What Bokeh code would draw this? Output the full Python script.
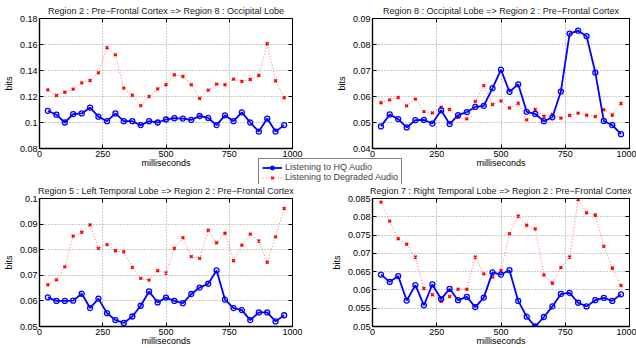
from bokeh.plotting import figure
from bokeh.layouts import column, row
from bokeh.models import (FixedTicker, NumeralTickFormatter, Range1d, Legend, LegendItem,
                          ColumnDataSource, LinearAxis, CustomJSTickFormatter)
from bokeh.embed import file_html
from bokeh.resources import INLINE

ms = [33, 67, 100, 133, 167, 200, 233, 267, 300, 333, 367, 400, 433, 467, 500,
      533, 567, 600, 633, 667, 700, 733, 767, 800, 833, 867, 900, 933, 967]

titles = [
    "Region 2 : Pre\u2212Frontal Cortex => Region 8 : Occipital Lobe",
    "Region 8 : Occipital Lobe => Region 2 : Pre\u2212Frontal Cortex",
    "Region 5 : Left Temporal Lobe => Region 2 : Pre\u2212Frontal Cortex",
    "Region 7 : Right Temporal Lobe => Region 2 : Pre\u2212Frontal Cortex",
]

hq_1 = [0.109, 0.106, 0.100, 0.1065, 0.107, 0.1115, 0.1045, 0.101, 0.107, 0.101,
        0.101, 0.098, 0.101, 0.100, 0.1023, 0.1033, 0.103, 0.102, 0.105, 0.1035,
        0.098, 0.1055, 0.101, 0.1078, 0.100, 0.093, 0.103, 0.093, 0.098]
deg_1 = [0.1251, 0.1208, 0.1233, 0.1257, 0.1305, 0.1323, 0.1382, 0.1575, 0.152, 0.1264,
         0.121, 0.113, 0.120, 0.1259, 0.129, 0.1367, 0.1354, 0.129, 0.1185, 0.1249,
         0.1295, 0.129, 0.1334, 0.1316, 0.1331, 0.1362, 0.1606, 0.1321, 0.119]

hq_2 = [0.0485, 0.0531, 0.0513, 0.0481, 0.0509, 0.051, 0.0496, 0.0547, 0.0494, 0.0528,
        0.054, 0.056, 0.0564, 0.0632, 0.0703, 0.0618, 0.0647, 0.0541, 0.0533, 0.0505,
        0.052, 0.0619, 0.0842, 0.0853, 0.0832, 0.0692, 0.0506, 0.049, 0.0455]
deg_2 = [0.0576, 0.0587, 0.0596, 0.0564, 0.059, 0.0542, 0.0537, 0.0559, 0.055, 0.052,
         0.0514, 0.0581, 0.0642, 0.0569, 0.0583, 0.0556, 0.0574, 0.051, 0.055, 0.0524,
         0.0531, 0.0517, 0.0527, 0.0536, 0.0528, 0.0523, 0.0549, 0.0529, 0.0573]

hq_3 = [0.0614, 0.060, 0.060, 0.0601, 0.0628, 0.0572, 0.0609, 0.0552, 0.0525, 0.0514,
        0.0539, 0.0581, 0.0637, 0.0594, 0.0613, 0.060, 0.0591, 0.0627, 0.0652, 0.0667,
        0.0719, 0.0605, 0.0572, 0.0564, 0.0525, 0.0555, 0.0555, 0.052, 0.0544]
deg_3 = [0.0663, 0.0682, 0.0733, 0.0853, 0.0868, 0.0897, 0.0805, 0.082, 0.0796, 0.0792,
         0.0731, 0.0688, 0.0681, 0.0718, 0.0709, 0.0805, 0.0847, 0.0773, 0.0766, 0.0876,
         0.0827, 0.0864, 0.0757, 0.0818, 0.0861, 0.0834, 0.0751, 0.085, 0.0961]

hq_4 = [0.0642, 0.0622, 0.0638, 0.0571, 0.0613, 0.0558, 0.0615, 0.0575, 0.0603, 0.0572,
        0.0581, 0.0553, 0.0579, 0.0648, 0.0642, 0.0654, 0.057, 0.0527, 0.050, 0.0526,
        0.0555, 0.0589, 0.0592, 0.0565, 0.0555, 0.0572, 0.0578, 0.057, 0.0588]
deg_4 = [0.084, 0.0788, 0.074, 0.0725, 0.069, 0.0604, 0.0587, 0.0569, 0.0582, 0.0602,
         0.0602, 0.069, 0.0644, 0.0635, 0.0653, 0.0754, 0.0802, 0.0777, 0.0767, 0.0641,
         0.0619, 0.0661, 0.069, 0.0847, 0.0811, 0.0805, 0.0719, 0.066, 0.0612]

x_ticks = [0, 250, 500, 750, 1000]
y_ticks = [
    [0.08, 0.10, 0.12, 0.14, 0.16, 0.18],
    [0.04, 0.05, 0.06, 0.07, 0.08, 0.09],
    [0.05, 0.06, 0.07, 0.08, 0.09, 0.10],
    [0.05, 0.055, 0.06, 0.065, 0.07, 0.075, 0.08, 0.085],
]
y_limits = [(0.08, 0.18), (0.04, 0.09), (0.05, 0.10), (0.05, 0.085)]
hq_series = [hq_1, hq_2, hq_3, hq_4]
deg_series = [deg_1, deg_2, deg_3, deg_4]

labels = ["Listening to HQ Audio", "Listening to Degraded Audio"]

FONT = "Liberation Sans"
BLUE = "#0000ff"
RED = "#ff0000"

# layout geometry: (width, height, left, right, top, bottom)
geom = [
    (318, 170, 37, 26, 18, 22),
    (318, 170, 54, 7, 18, 22),
    (318, 178, 37, 26, 28, 21),
    (318, 178, 54, 7, 28, 21),
]

HQ_LINE = dict(color=BLUE, line_width=1.8)
HQ_MARK = dict(marker="circle", size=5, line_color=BLUE, fill_color=None, line_width=1.3)
DEG_LINE = dict(color=RED, line_width=1, line_dash="1 2", line_alpha=0.55)
DEG_MARK = dict(marker="x", size=4, line_color=RED, line_width=1.5)


def style_axis(ax, show_labels=True):
    ax.major_tick_in = 4
    ax.major_tick_out = 0
    ax.minor_tick_in = 0
    ax.minor_tick_out = 0
    ax.axis_line_color = "black"
    ax.axis_line_width = 1.4
    ax.major_tick_line_color = "black"
    ax.major_label_text_font = FONT
    ax.major_label_text_color = "black"
    ax.major_label_text_font_size = "9px"
    ax.axis_label_text_font = FONT
    ax.axis_label_text_font_size = "9px"
    ax.axis_label_text_font_style = "normal"
    ax.axis_label_text_color = "black"
    if show_labels:
        ax.formatter = NumeralTickFormatter(format="0.[000]")
        ax.major_label_standoff = 2
    else:
        ax.formatter = CustomJSTickFormatter(code="return '';")
        ax.major_label_standoff = 0
        ax.axis_line_width = 1


def make_panel(i):
    w, h, bl, br, bt, bb = geom[i]
    p = figure(width=w, height=h, output_backend="svg", toolbar_location=None,
               x_range=Range1d(0, 1000), y_range=Range1d(*y_limits[i]),
               min_border_left=bl, min_border_right=br, min_border_top=bt,
               min_border_bottom=bb)
    p.outline_line_color = "black"
    p.outline_line_width = 1
    p.outline_line_alpha = 1
    p.background_fill_color = "white"
    p.border_fill_color = "white"

    style_axis(p.xaxis[0])
    style_axis(p.yaxis[0])
    p.xaxis[0].ticker = FixedTicker(ticks=x_ticks)
    p.yaxis[0].ticker = FixedTicker(ticks=y_ticks[i])
    p.xaxis[0].axis_label = "milliseconds"
    p.yaxis[0].axis_label = "bits"
    p.xaxis[0].axis_label_standoff = -2
    p.yaxis[0].axis_label_standoff = 3

    # mirrored inward ticks on the top and right edges (box on)
    top = LinearAxis(ticker=FixedTicker(ticks=x_ticks))
    style_axis(top, show_labels=False)
    p.add_layout(top, "above")
    right = LinearAxis(ticker=FixedTicker(ticks=y_ticks[i]))
    style_axis(right, show_labels=False)
    p.add_layout(right, "right")

    p.title.text = titles[i]
    p.title.text_font = FONT
    p.title.text_font_size = "9px"
    p.title.text_font_style = "normal"
    p.title.align = "center"
    p.title.standoff = 5
    p.title.text_color = "#222222"

    for g in (p.xgrid[0], p.ygrid[0]):
        g.grid_line_color = "#999999"
        g.grid_line_dash = "1 2"
        g.grid_line_width = 1
        g.grid_line_alpha = 1

    src = ColumnDataSource(dict(x=ms, hq=hq_series[i], deg=deg_series[i]))
    p.line("x", "deg", source=src, **DEG_LINE)
    p.scatter("x", "deg", source=src, **DEG_MARK)
    p.line("x", "hq", source=src, **HQ_LINE)
    p.scatter("x", "hq", source=src, **HQ_MARK)
    return p


panels = [make_panel(i) for i in range(4)]

# legend-only figure, overlaid between the panels; its renderers use the
# first panel's data, which falls outside this small figure's ranges.
lg = figure(width=146, height=26, output_backend="svg", toolbar_location=None,
            x_range=Range1d(-10, -9), y_range=Range1d(-10, -9),
            x_axis_location=None, y_axis_location=None,
            min_border=0, min_border_left=0, min_border_right=0,
            min_border_top=0, min_border_bottom=0)
lg.grid.visible = False
lg.outline_line_color = None
lg.background_fill_alpha = 0
lg.border_fill_alpha = 0
lsrc = ColumnDataSource(dict(x=ms, hq=hq_1, deg=deg_1))
l1 = lg.line("x", "hq", source=lsrc, **HQ_LINE)
s1 = lg.scatter("x", "hq", source=lsrc, **HQ_MARK)
l2 = lg.line("x", "deg", source=lsrc, **DEG_LINE)
s2 = lg.scatter("x", "deg", source=lsrc, **DEG_MARK)
legend = Legend(items=[LegendItem(label=labels[0], renderers=[l1, s1]),
                       LegendItem(label=labels[1], renderers=[l2, s2])],
                location="top_left", margin=0, padding=3, spacing=0,
                label_text_font=FONT, label_text_font_size="9px",
                label_height=9, glyph_height=9, glyph_width=20, label_standoff=3,
                border_line_color="black", border_line_width=1,
                background_fill_color="white", background_fill_alpha=1)
lg.add_layout(legend, "center")
lg.styles = {"position": "absolute", "left": "258px", "top": "158px", "z-index": "10"}

root = column(row(panels[0], panels[1], spacing=0),
              row(panels[2], panels[3], spacing=0), lg, spacing=0)
root.styles = {"position": "absolute", "left": "0px", "top": "0px"}

open("out.html", "w").write(file_html(root, INLINE))
